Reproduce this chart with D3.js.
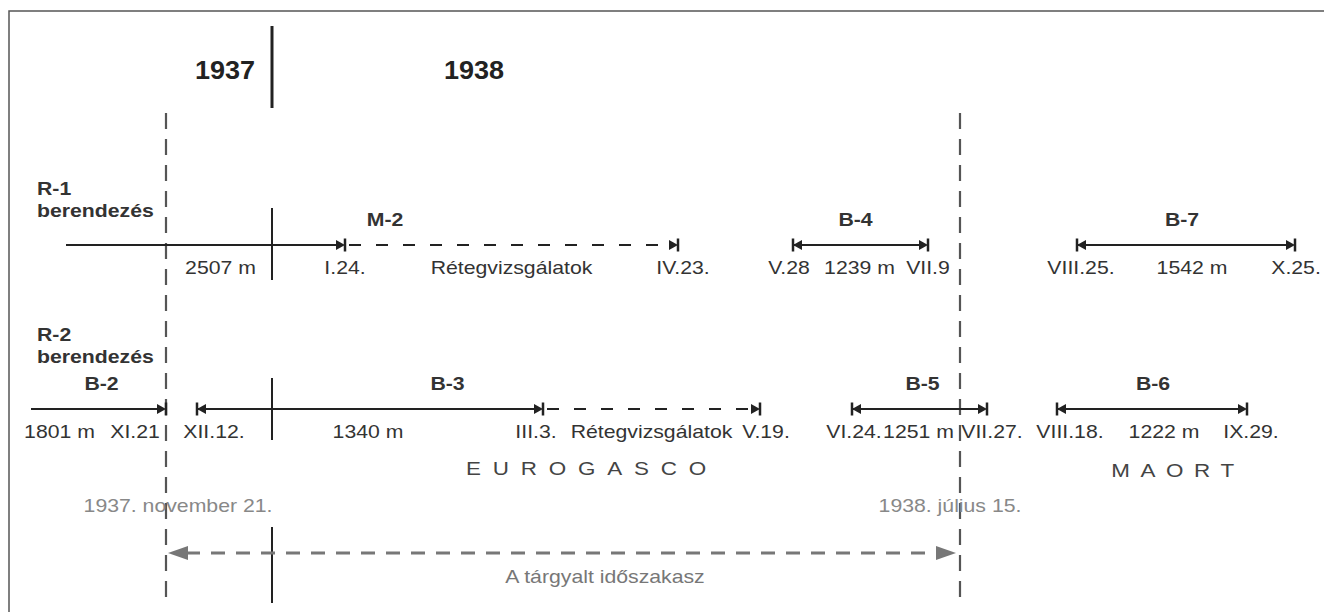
<!DOCTYPE html>
<html>
<head>
<meta charset="utf-8">
<script src="https://cdn.jsdelivr.net/npm/d3@7"></script>
<style>
  body { margin: 0; background: #fff; }
  svg { display: block; font-family: "Liberation Sans", Arial, sans-serif; }
</style>
</head>
<body>
<svg id="chart" width="1324" height="612"></svg>
<script>
// ---- data ----
var yearLabels = ["1937", "1938"];
var yearBoundary = "1938-01-01";
var rowLabels = [["R-1", "berendezés"], ["R-2", "berendezés"]];

// one entry per drawn segment
var segRow   = [0, 0, 0, 0, 1, 1, 1, 1, 1];
var segWell  = ["M-2", "M-2", "B-4", "B-7", "B-2", "B-3", "B-3", "B-5", "B-6"];
var segKind  = ["drill", "test", "drill", "drill", "drill", "drill", "test", "drill", "drill"];
var segStart = [null, "1938-01-24", "1938-05-28", "1938-08-25", null, "1937-12-12", "1938-03-03", "1938-06-24", "1938-08-18"];
var segEnd   = ["1938-01-24", "1938-04-23", "1938-07-09", "1938-10-25", "1937-11-21", "1938-03-03", "1938-05-19", "1938-07-27", "1938-09-29"];
var segStartText = [null, null, "V.28", "VIII.25.", null, "XII.12.", null, "VI.24.", "VIII.18."];
var segEndText   = ["I.24.", "IV.23.", "VII.9", "X.25.", "XI.21", "III.3.", "V.19.", "VII.27.", "IX.29."];
var segMidText   = ["2507 m", "Rétegvizsgálatok", "1239 m", "1542 m", "1801 m", "1340 m", "Rétegvizsgálatok", "1251 m", "1222 m"];

var companies = ["EUROGASCO", "MAORT"];
var periodStart = "1937-11-21", periodEnd = "1938-07-15";
var periodTexts = ["1937. november 21.", "1938. július 15."];
var periodCaption = "A tárgyalt időszakasz";

// ---- layout ----
// the drawing is not proportional in time, so the time scale is calibrated piecewise
var timeline = [
  ["1937-11-21", 166], ["1937-12-12", 197], ["1938-01-01", 272], ["1938-01-24", 345],
  ["1938-03-03", 543], ["1938-04-23", 678], ["1938-05-19", 760], ["1938-05-28", 793],
  ["1938-06-24", 852], ["1938-07-09", 928], ["1938-07-15", 960], ["1938-07-27", 987],
  ["1938-08-18", 1057], ["1938-08-25", 1077], ["1938-09-29", 1247], ["1938-10-25", 1295]
];
var rowY = [245, 409];
var openStartX = [66, 31];
var rowLabelY = [[195, 217], [341, 363]];
var midShift   = [15, 0, -1, 6, -39, -2, 0, -1, 12];
var startShift = [0, 0, -4, 4, 0, 17, 0, 2, 13];
var endShift   = [0, 5, 0, 1, -31, -7, 6, 5, 4];
var titleShift = { "M-2": 13, "B-3": -31, "B-4": -5, "B-7": -4, "B-2": 3, "B-5": 3, "B-6": 1 };
var SX = 1.18;   // the source text is a bit stretched horizontally

var parse = d3.timeParse("%Y-%m-%d");
var x = d3.scaleTime()
    .domain(timeline.map(function (d) { return parse(d[0]); }))
    .range(timeline.map(function (d) { return d[1]; }));

var svg = d3.select("#chart");

function label(px, py, str, o) {
    o = o || {};
    return svg.append("text")
        .attr("transform", "translate(" + px + "," + py + ") scale(" + (o.sx || SX) + ",1)")
        .attr("text-anchor", o.anchor || "middle")
        .attr("font-size", o.size || 18)
        .attr("font-weight", o.bold ? "bold" : "normal")
        .attr("fill", o.color || "#333")
        .attr("letter-spacing", o.ls || 0)
        .text(str);
}

function marker(bx, y, dir) {
    svg.append("path")
        .attr("d", "M" + bx + "," + y + "L" + (bx - dir * 9) + "," + (y - 5) + "L" + (bx - dir * 9) + "," + (y + 5) + "Z")
        .attr("fill", "#222");
    svg.append("line")
        .attr("x1", bx).attr("x2", bx).attr("y1", y - 6.5).attr("y2", y + 6.5)
        .attr("stroke", "#222").attr("stroke-width", 2.5);
}

// frame
svg.append("rect")
    .attr("x", 9).attr("y", 11).attr("width", 1340).attr("height", 640)
    .attr("fill", "none").attr("stroke", "#555").attr("stroke-width", 1.5);

// year boundary pieces
var xb = x(parse(yearBoundary));
[[26, 108], [208, 280], [378, 440], [527, 603]].forEach(function (s) {
    svg.append("line")
        .attr("x1", xb).attr("x2", xb).attr("y1", s[0]).attr("y2", s[1])
        .attr("stroke", "#222").attr("stroke-width", s[0] < 100 ? 3 : 2);
});
label(225, 79, yearLabels[0], { bold: true, size: 25, sx: 1.08, color: "#222" });
label(474, 79, yearLabels[1], { bold: true, size: 25, sx: 1.08, color: "#222" });

// period boundaries
[periodStart, periodEnd].forEach(function (d) {
    var px = x(parse(d));
    svg.append("line")
        .attr("x1", px).attr("x2", px).attr("y1", 113).attr("y2", 605)
        .attr("stroke", "#555").attr("stroke-width", 2.2)
        .attr("stroke-dasharray", "16,10");
});

// row labels
rowLabels.forEach(function (r, i) {
    label(37, rowLabelY[i][0], r[0], { bold: true, anchor: "start" });
    label(37, rowLabelY[i][1], r[1], { bold: true, anchor: "start" });
});

// segments
var wellSpan = {};
segRow.forEach(function (row, i) {
    var y = rowY[row];
    var x1 = segStart[i] ? x(parse(segStart[i])) : openStartX[row];
    var x2 = x(parse(segEnd[i]));
    var test = segKind[i] === "test";

    svg.append("line")
        .attr("x1", test ? x1 + 4 : x1).attr("x2", x2 - 4)
        .attr("y1", y).attr("y2", y)
        .attr("stroke", "#222").attr("stroke-width", 2)
        .attr("stroke-dasharray", test ? "12,15" : null);

    if (segStart[i] && !test) marker(x1, y, -1);
    marker(x2, y, 1);

    if (segStartText[i]) label(x1 + startShift[i], y + 29, segStartText[i]);
    label(x2 + endShift[i], y + 29, segEndText[i]);
    label((x1 + x2) / 2 + midShift[i], y + 29, segMidText[i]);

    var w = wellSpan[segWell[i]] || { a: Infinity, b: -Infinity, y: y };
    w.a = Math.min(w.a, x1); w.b = Math.max(w.b, x2);
    wellSpan[segWell[i]] = w;
});

Object.keys(wellSpan).forEach(function (k) {
    var w = wellSpan[k];
    label((w.a + w.b) / 2 + titleShift[k], w.y - 19, k, { bold: true });
});

// companies
label(592, 475, companies[0], { color: "#444", ls: 10, size: 19 });
label(1178, 477, companies[1], { color: "#444", ls: 9, size: 19 });

// period dates
var xs = x(parse(periodStart)), xe = x(parse(periodEnd));
label(178, 512, periodTexts[0], { color: "#888" });
label(950, 512, periodTexts[1], { color: "#888" });

// period arrow
var ay = 553;
svg.append("line")
    .attr("x1", xs + 20).attr("x2", xe - 20).attr("y1", ay).attr("y2", ay)
    .attr("stroke", "#777").attr("stroke-width", 3)
    .attr("stroke-dasharray", "14,11");
svg.append("path")
    .attr("d", "M" + (xs + 2) + "," + ay + "L" + (xs + 22) + "," + (ay - 7) + "L" + (xs + 22) + "," + (ay + 7) + "Z")
    .attr("fill", "#777");
svg.append("path")
    .attr("d", "M" + (xe - 4) + "," + ay + "L" + (xe - 24) + "," + (ay - 7) + "L" + (xe - 24) + "," + (ay + 7) + "Z")
    .attr("fill", "#777");
label(605, 583, periodCaption, { color: "#777" });
</script>
</body>
</html>
